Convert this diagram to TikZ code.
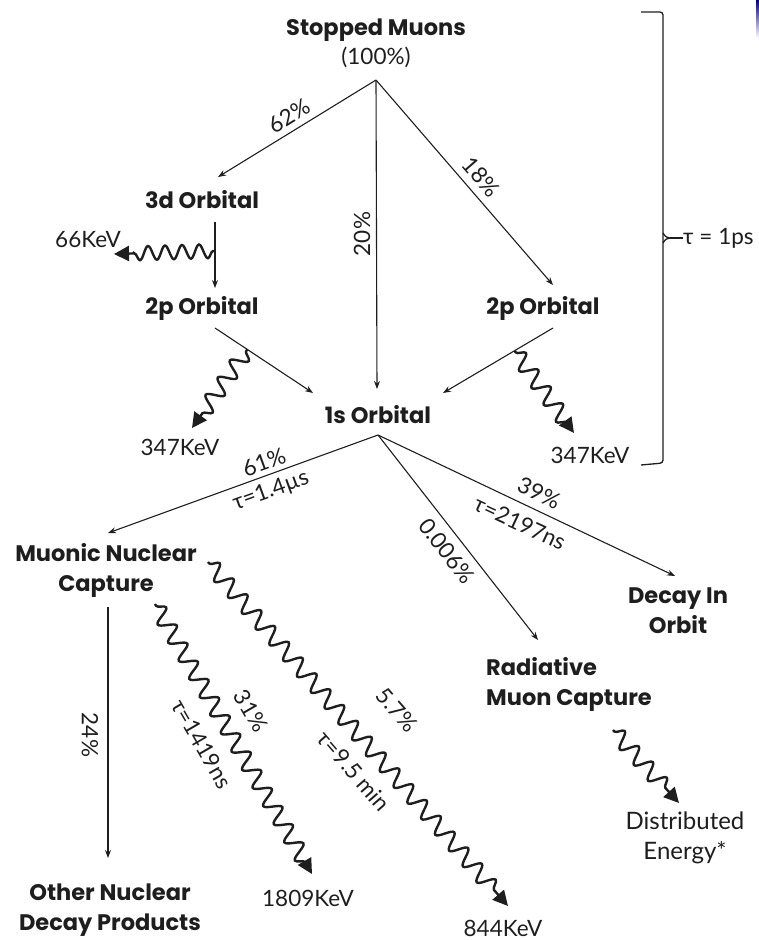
\documentclass[tikz,border=0pt]{standalone}
\usepackage{fontspec}
\setmainfont{Lato}
\newfontfamily\boldfam{Poppins}
\usetikzlibrary{arrows.meta,decorations.pathmorphing,calc}
\definecolor{ink}{HTML}{1E1E1E}
\tikzset{
  lbl/.style={font=\fontsize{22.5}{26}\selectfont, text=ink, inner sep=1pt},
  ttl/.style={font=\boldfam\bfseries\fontsize{22.5}{30}\selectfont, text=ink, inner sep=1pt, align=center},
  arr/.style={draw=ink, line width=1.1pt, -{Stealth[length=8pt,width=6pt]}},
  wave/.style={draw=ink, line width=2.4pt, -{Triangle[length=15pt,width=15pt]},
    decorate, decoration={snake, amplitude=8pt, segment length=21pt, pre length=2pt, post length=12pt}},
}
\begin{document}
\begin{tikzpicture}[x=1pt,y=-1pt]
\useasboundingbox (0,0) rectangle (759,940);
\shade[top color=blue!55!black, bottom color=white] (756,0) rectangle (759,38);

% titles
\node[ttl] (sm) at (376,30) {Stopped Muons};
\node[lbl] (smp) at (376,57) {(100\%)};
\node[ttl] (d3) at (202,200) {3d Orbital};
\node[ttl] (p2l) at (202,308) {2p Orbital};
\node[ttl] (p2r) at (543,308) {2p Orbital};
\node[ttl] (s1) at (378,415) {1s Orbital};
\node[ttl] (mnc) at (106,570) {Muonic Nuclear\\Capture};
\node[ttl] (dio) at (678,611) {Decay In\\Orbit};
\node[ttl, align=left, anchor=west] (rmc) at (485,684) {Radiative\\Muon Capture};
\node[ttl] (ondp) at (110,910) {Other Nuclear\\Decay Products};

% energy labels
\node[lbl] (e66) at (88,240) {66KeV};
\node[lbl] (e347l) at (180,447) {347KeV};
\node[lbl] (e347r) at (590,455) {347KeV};
\node[lbl] (e1809) at (308,898) {1809KeV};
\node[lbl] (e844) at (503,928) {844KeV};
\node[lbl, align=center, font=\fontsize{24}{30}\selectfont] (dist) at (685,838) {Distributed\\Energy*};

% coordinates
\coordinate (apex) at (376,80);
\coordinate (t3d) at (218,177);
\coordinate (t1s) at (377,389);
\coordinate (t2pr) at (553,285);
\coordinate (b3d) at (215,222);
\coordinate (t2pl) at (215,288);
\coordinate (b2pl) at (215,328);
\coordinate (l1s) at (313,393);
\coordinate (b2pr) at (553,328);
\coordinate (r1s) at (443,393);
\coordinate (apex1s) at (378,435);
\coordinate (tmnc) at (108,533);
\coordinate (trmc) at (538,640);
\coordinate (tdio) at (675,576);
\coordinate (bmnc) at (108,607);
\coordinate (tondp) at (108,858);

% straight arrows
\draw[arr] (apex) -- (t3d);
\draw[arr] (apex) -- (t1s);
\draw[arr] (apex) -- (t2pr);
\draw[arr] (b3d) -- (t2pl);
\draw[arr] (b2pl) -- (l1s);
\draw[arr] (b2pr) -- (r1s);
\draw[arr] (apex1s) -- (tmnc);
\draw[arr] (apex1s) -- (trmc);
\draw[arr] (apex1s) -- (tdio);
\draw[arr] (bmnc) -- (tondp);

% wavy arrows
\coordinate (w66s) at (215,251);
\coordinate (w66e) at (114,254);
\draw[wave, decoration={segment length=17pt, amplitude=7pt}] (w66s) -- (w66e);
\coordinate (wls) at ($(b2pl)!0.33!(l1s)$);
\coordinate (wle) at (192,428);
\draw[wave] (wls) -- (wle);
\coordinate (wrs) at ($(b2pr)!0.35!(r1s)$);
\coordinate (wre) at (574,433);
\draw[wave] (wrs) -- (wre);
\coordinate (w1809s) at (155,604);
\coordinate (w1809e) at (312,874);
\draw[wave] (w1809s) -- (w1809e);
\coordinate (w844s) at (208,562);
\coordinate (w844e) at (508,906);
\draw[wave] (w844s) -- (w844e);
\coordinate (wdes) at (613,730);
\coordinate (wdee) at (679,803);
\draw[wave] (wdes) -- (wdee);

% branch labels
\node[lbl, rotate=31.5] (l62) at (289,116) {62\%};
\node[lbl, rotate=90] (l20) at (362,234) {20\%};
\node[lbl, rotate=-49] (l18) at (481,177) {18\%};
\node[lbl, rotate=20] (l61) at (264,462) {61\%};
\node[lbl, rotate=20] (l14) at (271,491) {τ=1.4µs};
\node[lbl, rotate=-25] (l39) at (539,493) {39\%};
\node[lbl, rotate=-25] (l2197) at (520,523) {τ=2197ns};
\node[lbl, rotate=-52] (l0006) at (447,551) {0.006\%};
\node[lbl, rotate=-90] (l24) at (90,735) {24\%};
\node[lbl, rotate=-60] (l31) at (251,711) {31\%};
\node[lbl, rotate=-60] (l1419) at (202,744) {τ=1419ns};
\node[lbl, rotate=-49] (l57) at (397,710) {5.7\%};
\node[lbl, rotate=-49] (l95) at (354,771) {τ=9.5 min};

% bracket
\draw[ink, line width=1.3pt, rounded corners=3pt] (641,12) -- (663,12) -- (663,463) -- (641,465);
\draw[ink, line width=1.3pt] (663,233) .. controls (665,237) and (668,238) .. (670,238) .. controls (668,238) and (665,239) .. (663,243);
\coordinate (brk) at (670,238);
\node[lbl, anchor=west, inner sep=0pt] (tau1) at (683,238) {τ = 1ps};
\draw[ink, line width=1.3pt] (brk) -- (tau1.west);
\end{tikzpicture}
\end{document}
